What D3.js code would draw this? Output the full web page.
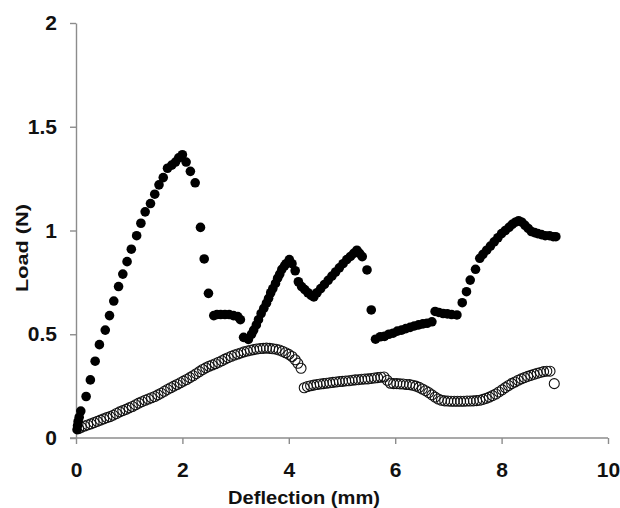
<!DOCTYPE html>
<html>
<head>
<meta charset="utf-8">
<script src="https://cdn.jsdelivr.net/npm/d3@7"></script>
<style>
  body { margin: 0; background: #fff; }
  .tick text { font-family: "Liberation Sans", Arial, sans-serif; font-weight: bold; }
</style>
</head>
<body>
<div id="chart"></div>
<script>
// Tick values for the two axes
const xTicks = [0, 2, 4, 6, 8, 10];
const yTicks = [0, 0.5, 1, 1.5, 2];

// Filled series (solid circles)
const filledX = [0.02, 0.03, 0.04, 0.06, 0.09, 0.19, 0.27, 0.36, 0.44, 0.55, 0.63, 0.71, 0.80, 0.88, 0.96,
  1.04, 1.14, 1.22, 1.30, 1.40, 1.48, 1.56, 1.64, 1.72, 1.80, 1.87, 1.93, 2.00, 2.07, 2.15, 2.24, 2.34, 2.41, 2.49,
  2.59, 2.65, 2.72, 2.80, 2.88, 2.96, 3.04, 3.09,
  3.15, 3.24, 3.30, 3.34, 3.39, 3.43, 3.48, 3.53, 3.58, 3.62, 3.66, 3.70, 3.75, 3.79, 3.83, 3.87, 3.92, 3.95, 4.01,
  4.06, 4.12, 4.18, 4.24, 4.30, 4.36, 4.42, 4.47, 4.53, 4.60, 4.67, 4.74, 4.81, 4.88, 4.95, 5.02, 5.09, 5.16, 5.22,
  5.28, 5.33, 5.38, 5.47, 5.55, 5.63, 5.72, 5.80, 5.88, 5.96, 6.04, 6.12, 6.20, 6.28, 6.36, 6.44, 6.52, 6.60, 6.69,
  6.75, 6.82, 6.90, 6.98, 7.06, 7.16, 7.26, 7.34, 7.41, 7.51, 7.59, 7.65, 7.72, 7.79, 7.86, 7.93, 8.00, 8.07, 8.14,
  8.20, 8.26, 8.32, 8.38, 8.44, 8.50, 8.56, 8.62, 8.68, 8.75, 8.82, 8.90, 8.97, 9.02];
const filledY = [0.04, 0.06, 0.08, 0.10, 0.13, 0.20, 0.28, 0.37, 0.45, 0.52, 0.59, 0.66, 0.73, 0.79, 0.85,
  0.91, 0.975, 1.035, 1.09, 1.13, 1.175, 1.22, 1.255, 1.30, 1.315, 1.33, 1.35, 1.365, 1.33, 1.285, 1.23, 1.015, 0.863, 0.697,
  0.59, 0.595, 0.595, 0.595, 0.595, 0.59, 0.585, 0.57,
  0.485, 0.475, 0.50, 0.52, 0.545, 0.57, 0.60, 0.625, 0.65, 0.673, 0.70, 0.72, 0.745, 0.77, 0.79, 0.813, 0.83, 0.84, 0.86,
  0.84, 0.806, 0.753, 0.73, 0.715, 0.70, 0.688, 0.68, 0.70, 0.72, 0.74, 0.76, 0.78, 0.80, 0.82, 0.84, 0.86, 0.875, 0.89,
  0.905, 0.89, 0.874, 0.81, 0.617, 0.476, 0.488, 0.49, 0.50, 0.505, 0.515, 0.52, 0.527, 0.533, 0.54, 0.545, 0.55, 0.553, 0.56,
  0.61, 0.605, 0.60, 0.598, 0.595, 0.593, 0.652, 0.705, 0.761, 0.813, 0.866, 0.885, 0.905, 0.925, 0.945, 0.965, 0.985, 1.00, 1.015,
  1.03, 1.04, 1.047, 1.04, 1.025, 1.01, 0.995, 0.99, 0.985, 0.98, 0.975, 0.975, 0.97, 0.97];

// Open series (hollow circles)
const openX = [0.05, 0.10, 0.16, 0.22, 0.28, 0.34, 0.40, 0.46, 0.52, 0.58, 0.64, 0.70, 0.76, 0.82, 0.88, 0.94,
  1.00, 1.06, 1.12, 1.18, 1.24, 1.30, 1.36, 1.42, 1.48, 1.54, 1.60, 1.66, 1.72, 1.78, 1.84, 1.90, 1.96,
  2.02, 2.08, 2.14, 2.20, 2.26, 2.32, 2.38, 2.44, 2.50, 2.56, 2.62, 2.68, 2.74, 2.80, 2.86, 2.92, 2.98,
  3.04, 3.10, 3.16, 3.22, 3.28, 3.34, 3.40, 3.46, 3.52, 3.58, 3.64, 3.70, 3.76, 3.82, 3.88, 3.94,
  4.00, 4.06, 4.12, 4.17, 4.23,
  4.29, 4.35, 4.41, 4.47, 4.53, 4.59, 4.65, 4.71, 4.77, 4.83, 4.89, 4.95, 5.01, 5.07, 5.13, 5.19, 5.25,
  5.31, 5.37, 5.43, 5.49, 5.55, 5.61, 5.67, 5.73, 5.79, 5.85, 5.91, 5.97, 6.03, 6.09, 6.15, 6.21, 6.27,
  6.33, 6.39, 6.45, 6.51, 6.57, 6.63, 6.69, 6.75, 6.81, 6.87, 6.93, 6.99, 7.05, 7.11, 7.17, 7.23, 7.29,
  7.35, 7.41, 7.47, 7.53, 7.59, 7.65, 7.71, 7.77, 7.83, 7.89, 7.95, 8.01, 8.07, 8.13, 8.19, 8.25, 8.31,
  8.37, 8.43, 8.49, 8.55, 8.61, 8.67, 8.73, 8.79, 8.85, 8.91, 8.99];
const openY = [0.045, 0.052, 0.058, 0.063, 0.068, 0.074, 0.080, 0.086, 0.092, 0.098, 0.103, 0.110, 0.118, 0.126, 0.132, 0.138,
  0.145, 0.152, 0.160, 0.168, 0.175, 0.182, 0.188, 0.194, 0.200, 0.208, 0.216, 0.225, 0.234, 0.242, 0.250, 0.258, 0.266,
  0.274, 0.282, 0.291, 0.300, 0.310, 0.320, 0.330, 0.338, 0.346, 0.352, 0.358, 0.365, 0.372, 0.380, 0.387, 0.394, 0.400,
  0.405, 0.410, 0.415, 0.419, 0.423, 0.426, 0.429, 0.431, 0.432, 0.433, 0.432, 0.430, 0.428, 0.424, 0.418, 0.411,
  0.403, 0.393, 0.377, 0.360, 0.336,
  0.242, 0.248, 0.252, 0.255, 0.258, 0.260, 0.262, 0.264, 0.266, 0.268, 0.270, 0.272, 0.273, 0.275, 0.276, 0.278, 0.280,
  0.281, 0.283, 0.284, 0.285, 0.287, 0.289, 0.291, 0.293, 0.294, 0.278, 0.264, 0.262, 0.262, 0.261, 0.260, 0.258, 0.257,
  0.254, 0.250, 0.244, 0.236, 0.228, 0.219, 0.208, 0.197, 0.188, 0.182, 0.179, 0.178, 0.177, 0.177, 0.177, 0.177, 0.177,
  0.178, 0.178, 0.179, 0.180, 0.182, 0.186, 0.191, 0.197, 0.204, 0.212, 0.222, 0.232, 0.243, 0.253, 0.262, 0.270, 0.278,
  0.285, 0.291, 0.297, 0.302, 0.307, 0.312, 0.316, 0.320, 0.322, 0.322, 0.262];

const width = 620;
const height = 508;
const margin = { top: 23, right: 12, bottom: 70, left: 76 };
const axisColor = "#8c8c8c";

const svg = d3.select("#chart")
  .append("svg")
  .attr("width", width)
  .attr("height", height);

const x = d3.scaleLinear()
  .domain([0, 10])
  .range([margin.left, 608]);

const y = d3.scaleLinear()
  .domain([0, 2])
  .range([height - margin.bottom, margin.top]);

// x axis
const xAxis = svg.append("g")
  .attr("transform", `translate(0,${y(0)})`)
  .call(d3.axisBottom(x).tickValues(xTicks).tickFormat(d3.format("")).tickSize(6).tickPadding(18).tickSizeOuter(0));
xAxis.select(".domain").attr("stroke", axisColor).attr("stroke-width", 1.4)
  .attr("d", `M${x(0) - 6},0H${x(10)}`);
xAxis.selectAll(".tick line").attr("stroke", axisColor).attr("stroke-width", 1.4);
xAxis.selectAll(".tick text").attr("font-size", 21).attr("fill", "#111");

// y axis
const yAxis = svg.append("g")
  .attr("transform", `translate(${x(0)},0)`)
  .call(d3.axisLeft(y).tickValues(yTicks).tickFormat(d3.format("")).tickSize(6).tickPadding(13).tickSizeOuter(0));
yAxis.select(".domain").attr("stroke", axisColor).attr("stroke-width", 1.4);
yAxis.selectAll(".tick line").attr("stroke", axisColor).attr("stroke-width", 1.4);
yAxis.selectAll(".tick text").attr("font-size", 21).attr("fill", "#111");

// open circles (no fill, so the overlapping rings show through)
svg.append("g")
  .selectAll("circle")
  .data(openX.map((v, i) => [v, openY[i]]))
  .enter()
  .append("circle")
  .attr("cx", d => x(d[0]))
  .attr("cy", d => y(d[1]))
  .attr("r", 5)
  .attr("fill", "none")
  .attr("stroke", "#111")
  .attr("stroke-width", 1.1);

// filled circles
svg.append("g")
  .selectAll("circle")
  .data(filledX.map((v, i) => [v, filledY[i]]))
  .enter()
  .append("circle")
  .attr("cx", d => x(d[0]))
  .attr("cy", d => y(d[1]))
  .attr("r", 4.8)
  .attr("fill", "#000");

// axis titles
svg.append("text")
  .attr("x", 304)
  .attr("y", 504)
  .attr("text-anchor", "middle")
  .attr("font-family", "'Liberation Sans', Arial, sans-serif")
  .attr("font-weight", "bold")
  .attr("font-size", 19)
  .attr("fill", "#111")
  .attr("textLength", 152)
  .attr("lengthAdjust", "spacingAndGlyphs")
  .text("Deflection (mm)");

svg.append("text")
  .attr("transform", "translate(28,248) rotate(-90)")
  .attr("text-anchor", "middle")
  .attr("font-family", "'Liberation Sans', Arial, sans-serif")
  .attr("font-weight", "bold")
  .attr("font-size", 17)
  .attr("fill", "#111")
  .attr("textLength", 88)
  .attr("lengthAdjust", "spacingAndGlyphs")
  .text("Load (N)");
</script>
</body>
</html>
